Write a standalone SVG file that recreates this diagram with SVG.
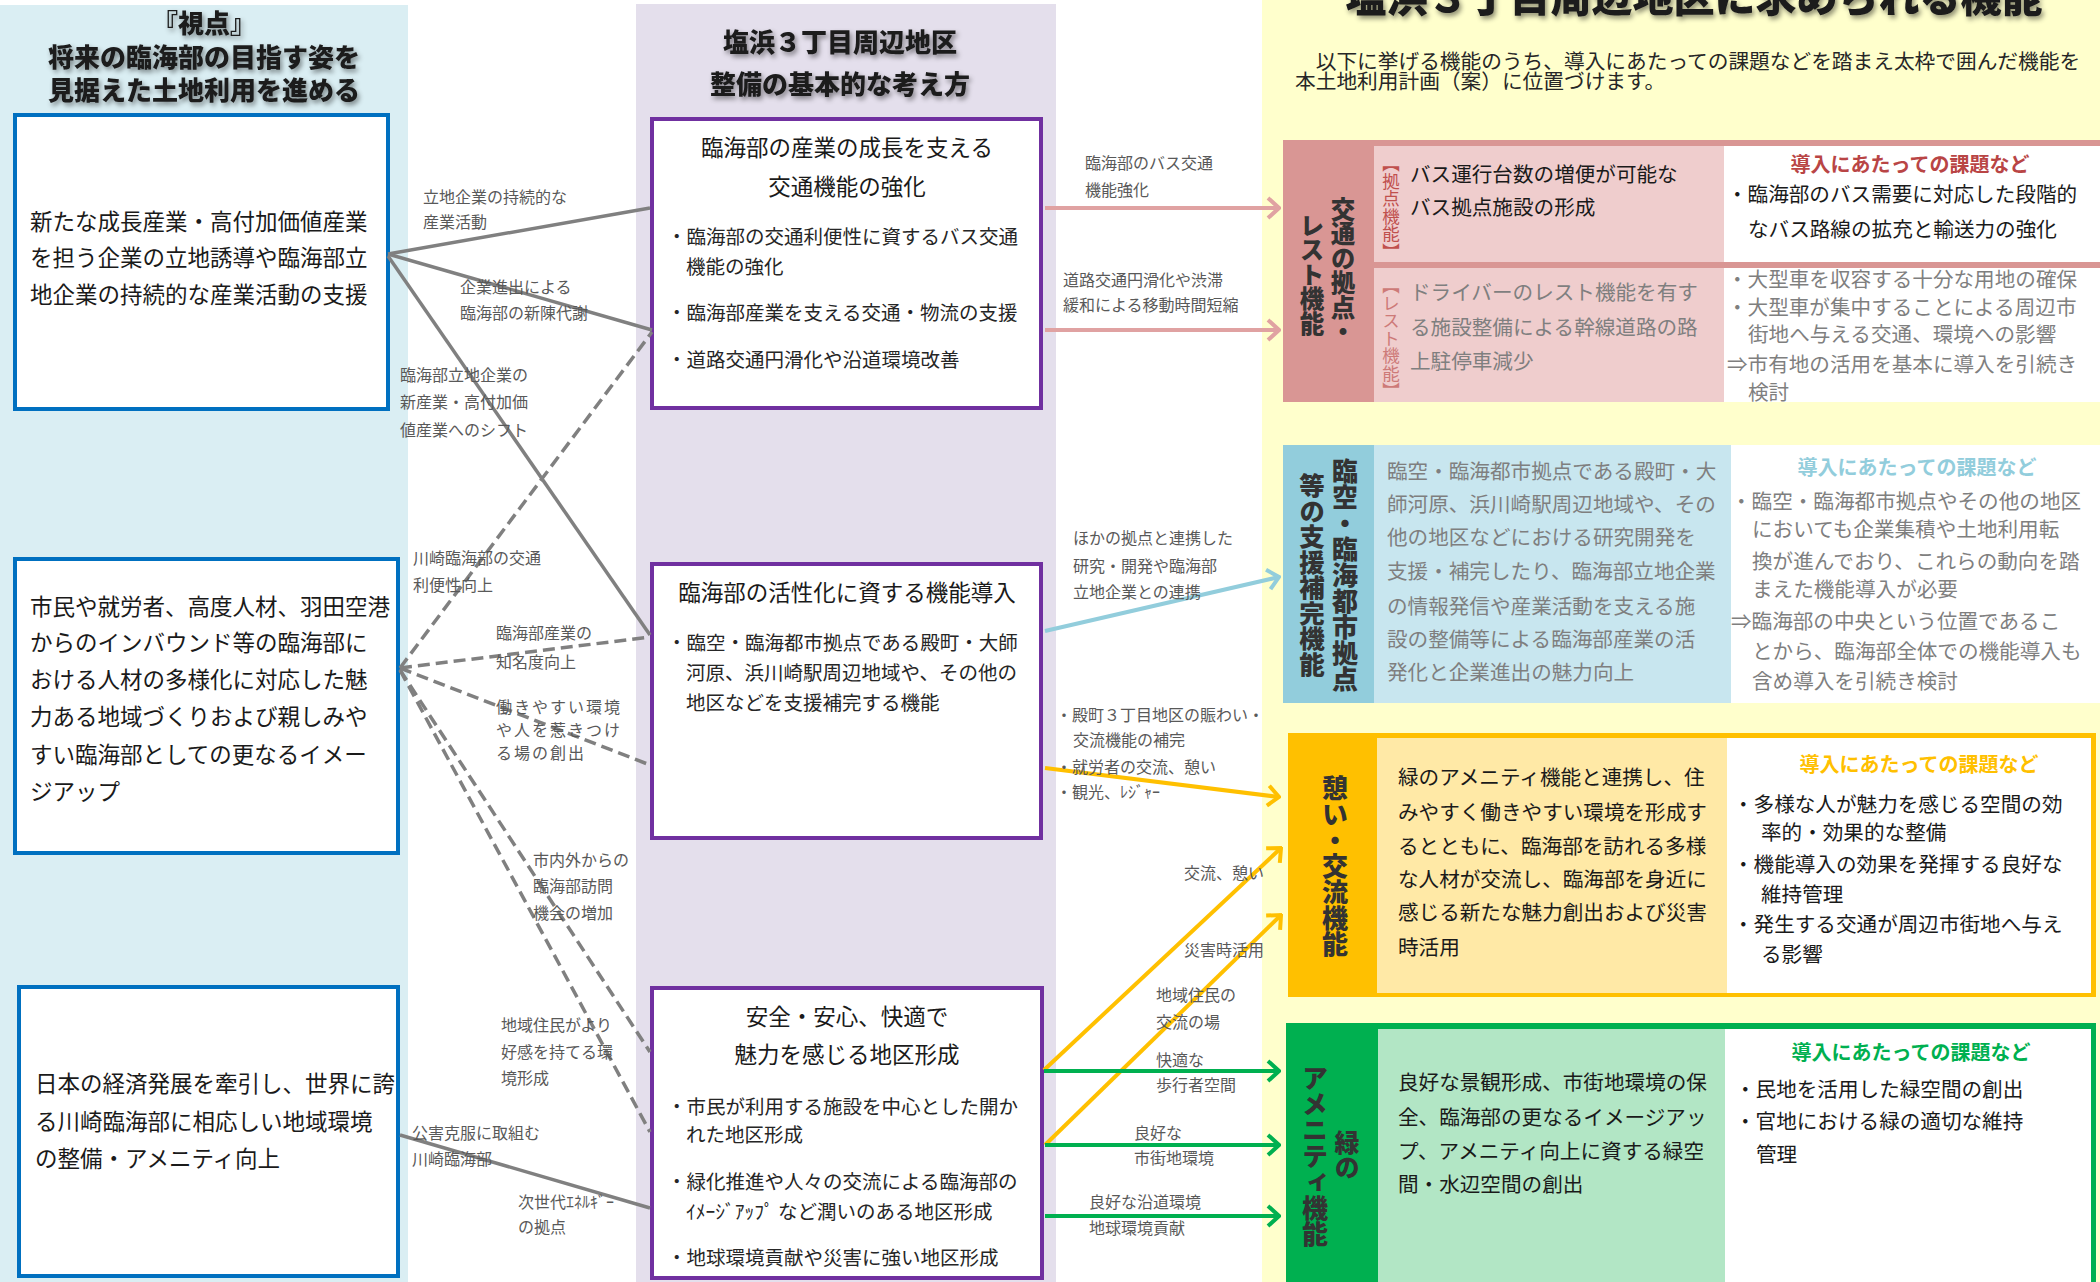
<svg xmlns="http://www.w3.org/2000/svg" width="2100" height="1282" viewBox="0 0 2100 1282">
<defs>
<style>
text{font-family:'Noto Sans CJK JP','Noto Sans',sans-serif;fill:#1a1a1a}
.hd{font-size:26px;font-weight:900;text-anchor:middle;filter:url(#sh)}
.t22{font-size:22.5px}
.bt{font-size:19.5px;fill:#262626}
.ctr{text-anchor:middle}
.lb{font-size:16px;fill:#595959}
.y{font-size:20.6px}
.g{fill:#7f7f7f}
.vt{writing-mode:vertical-rl;font-weight:900;font-size:25px;fill:#333}
.kd{font-size:20px;font-weight:bold;text-anchor:middle}
.sol{stroke:#808080;stroke-width:3.5;fill:none}
.dsh{stroke:#808080;stroke-width:3.5;fill:none;stroke-dasharray:12 6}
.blue{fill:#fff;stroke:#0070c0;stroke-width:4}
.purp{fill:#fff;stroke:#7030a0;stroke-width:4}
</style>
<filter id="sh" x="-10%" y="-40%" width="125%" height="180%"><feDropShadow dx="2" dy="3" stdDeviation="2.5" flood-color="#000" flood-opacity="0.45"/></filter>
<marker id="mp" viewBox="-14 -12 16 24" markerWidth="16" markerHeight="24" refX="0" refY="0" orient="auto" markerUnits="userSpaceOnUse"><path d="M-11,-10 L0,0 L-11,10" fill="none" stroke="#e0a2a2" stroke-width="4"/></marker>
<marker id="mb" viewBox="-14 -12 16 24" markerWidth="16" markerHeight="24" refX="0" refY="0" orient="auto" markerUnits="userSpaceOnUse"><path d="M-11,-10 L0,0 L-11,10" fill="none" stroke="#92cddc" stroke-width="4"/></marker>
<marker id="mo" viewBox="-14 -12 16 24" markerWidth="16" markerHeight="24" refX="0" refY="0" orient="auto" markerUnits="userSpaceOnUse"><path d="M-11,-10 L0,0 L-11,10" fill="none" stroke="#ffc000" stroke-width="4"/></marker>
<marker id="mg" viewBox="-14 -12 16 24" markerWidth="16" markerHeight="24" refX="0" refY="0" orient="auto" markerUnits="userSpaceOnUse"><path d="M-11,-10 L0,0 L-11,10" fill="none" stroke="#00b050" stroke-width="4"/></marker>
</defs>

<g id="backgrounds">
<rect x="0" y="5" width="408" height="1277" fill="#daeef3"/>
<rect x="636" y="4" width="420" height="1278" fill="#e4dfec"/>
<rect x="1262" y="0" width="838" height="1282" fill="#ffffcc"/>
</g>

<g id="headings">
<text class="hd" x="204" y="33">『視点』</text>
<text class="hd" x="204" y="67">将来の臨海部の目指す姿を</text>
<text class="hd" x="204" y="100">見据えた土地利用を進める</text>
<text class="hd" x="840" y="52">塩浜３丁目周辺地区</text>
<text class="hd" x="840" y="94">整備の基本的な考え方</text>
<text class="hd" x="1694" y="12" style="font-size:41px">塩浜３丁目周辺地区に求められる機能</text>
<text x="1295" y="69" style="font-size:20.7px;fill:#262626">　以下に挙げる機能のうち、導入にあたっての課題などを踏まえ太枠で囲んだ機能を</text>
<text x="1295" y="89" style="font-size:20.7px;fill:#262626">本土地利用計画（案）に位置づけます。</text>
</g>

<g id="view1">
<rect class="blue" x="15" y="115" width="373" height="294"/>
<text class="t22" x="30" y="230">新たな成長産業・高付加価値産業</text>
<text class="t22" x="30" y="266">を担う企業の立地誘導や臨海部立</text>
<text class="t22" x="30" y="303">地企業の持続的な産業活動の支援</text>
</g>
<g id="view2">
<rect class="blue" x="15" y="559" width="383" height="294"/>
<text class="t22" x="30" y="615">市民や就労者、高度人材、羽田空港</text>
<text class="t22" x="30" y="651">からのインバウンド等の臨海部に</text>
<text class="t22" x="30" y="688">おける人材の多様化に対応した魅</text>
<text class="t22" x="30" y="725">力ある地域づくりおよび親しみや</text>
<text class="t22" x="30" y="763">すい臨海部としての更なるイメー</text>
<text class="t22" x="30" y="800">ジアップ</text>
</g>
<g id="view3">
<rect class="blue" x="19" y="987" width="379" height="289"/>
<text class="t22" x="35" y="1092">日本の経済発展を牽引し、世界に誇</text>
<text class="t22" x="35" y="1130">る川崎臨海部に相応しい地域環境</text>
<text class="t22" x="35" y="1167">の整備・アメニティ向上</text>
</g>

<g id="policyA">
<rect class="purp" x="652" y="119" width="389" height="289"/>
<text class="t22 ctr" x="847" y="156">臨海部の産業の成長を支える</text>
<text class="t22 ctr" x="847" y="195">交通機能の強化</text>
<text class="bt" x="667" y="244">・臨海部の交通利便性に資するバス交通</text>
<text class="bt" x="686" y="274">機能の強化</text>
<text class="bt" x="667" y="320">・臨海部産業を支える交通・物流の支援</text>
<text class="bt" x="667" y="367">・道路交通円滑化や沿道環境改善</text>
</g>
<g id="policyB">
<rect class="purp" x="652" y="564" width="389" height="274"/>
<text class="t22 ctr" x="847" y="601">臨海部の活性化に資する機能導入</text>
<text class="bt" x="667" y="650">・臨空・臨海都市拠点である殿町・大師</text>
<text class="bt" x="686" y="680">河原、浜川崎駅周辺地域や、その他の</text>
<text class="bt" x="686" y="710">地区などを支援補完する機能</text>
</g>
<g id="policyC">
<rect class="purp" x="652" y="988" width="390" height="290"/>
<text class="t22 ctr" x="847" y="1025">安全・安心、快適で</text>
<text class="t22 ctr" x="847" y="1063">魅力を感じる地区形成</text>
<text class="bt" x="667" y="1114">・市民が利用する施設を中心とした開か</text>
<text class="bt" x="686" y="1142">れた地区形成</text>
<text class="bt" x="667" y="1189">・緑化推進や人々の交流による臨海部の</text>
<text class="bt" x="686" y="1219">ｲﾒｰｼﾞｱｯﾌﾟ など潤いのある地区形成</text>
<text class="bt" x="667" y="1265">・地球環境貢献や災害に強い地区形成</text>
</g>

<g id="funcTransport">
<rect x="1283" y="140" width="817" height="6" fill="#d99694"/>
<rect x="1283" y="140" width="91" height="262" fill="#d99694"/>
<rect x="1374" y="146" width="350" height="256" fill="#efcdcd"/>
<rect x="1724" y="146" width="376" height="116" fill="#fff"/>
<rect x="1374" y="262" width="726" height="6" fill="#d99694"/>
<rect x="1724" y="268" width="376" height="134" fill="#fff"/>
<text class="vt" x="1343" y="197" style="font-size:24.5px">交通の拠点・</text>
<text class="vt" x="1312" y="213" style="font-size:24.5px">レスト機能</text>
<text x="1391" y="155" style="writing-mode:vertical-rl;font-size:17.5px;fill:#c0504d">【拠点機能】</text>
<text x="1391" y="277" style="writing-mode:vertical-rl;font-size:17.5px;fill:#cd7a78">【レスト機能】</text>
<text class="y" x="1410" y="182">バス運行台数の増便が可能な</text>
<text class="y" x="1410" y="215">バス拠点施設の形成</text>
<text class="y g" x="1410" y="300">ドライバーのレスト機能を有す</text>
<text class="y g" x="1410" y="335">る施設整備による幹線道路の路</text>
<text class="y g" x="1410" y="369">上駐停車減少</text>
<text class="kd" x="1910" y="172" style="fill:#b94545">導入にあたっての課題など</text>
<text class="y" x="1727" y="202">・臨海部のバス需要に対応した段階的</text>
<text class="y" x="1748" y="237">なバス路線の拡充と輸送力の強化</text>
<text class="y g" x="1727" y="287">・大型車を収容する十分な用地の確保</text>
<text class="y g" x="1727" y="315">・大型車が集中することによる周辺市</text>
<text class="y g" x="1748" y="342">街地へ与える交通、環境への影響</text>
<text class="y g" x="1727" y="372">⇒市有地の活用を基本に導入を引続き</text>
<text class="y g" x="1748" y="400">検討</text>
</g>

<g id="funcSupport">
<rect x="1283" y="445" width="91" height="258" fill="#92cddc"/>
<rect x="1374" y="445" width="357" height="258" fill="#c8e6ef"/>
<rect x="1731" y="445" width="369" height="258" fill="#fff"/>
<text class="vt" x="1345" y="458" style="font-size:26px">臨空・臨海都市拠点</text>
<text class="vt" x="1312" y="473" style="font-size:25.5px">等の支援補完機能</text>
<text class="y g" x="1387" y="479">臨空・臨海都市拠点である殿町・大</text>
<text class="y g" x="1387" y="512">師河原、浜川崎駅周辺地域や、その</text>
<text class="y g" x="1387" y="545">他の地区などにおける研究開発を</text>
<text class="y g" x="1387" y="579">支援・補完したり、臨海部立地企業</text>
<text class="y g" x="1387" y="614">の情報発信や産業活動を支える施</text>
<text class="y g" x="1387" y="647">設の整備等による臨海部産業の活</text>
<text class="y g" x="1387" y="680">発化と企業進出の魅力向上</text>
<text class="kd" x="1917" y="475" style="fill:#92cddc">導入にあたっての課題など</text>
<text class="y g" x="1731" y="509">・臨空・臨海都市拠点やその他の地区</text>
<text class="y g" x="1752" y="537">においても企業集積や土地利用転</text>
<text class="y g" x="1752" y="569">換が進んでおり、これらの動向を踏</text>
<text class="y g" x="1752" y="597">まえた機能導入が必要</text>
<text class="y g" x="1731" y="629">⇒臨海部の中央という位置であるこ</text>
<text class="y g" x="1752" y="659">とから、臨海部全体での機能導入も</text>
<text class="y g" x="1752" y="689">含め導入を引続き検討</text>
</g>

<g id="funcRest">
<rect x="1288" y="733" width="808" height="264" fill="#ffc000"/>
<rect x="1377" y="738" width="350" height="255" fill="#ffe9a6"/>
<rect x="1727" y="738" width="364" height="255" fill="#fff"/>
<text class="vt" x="1335" y="775" style="font-size:26px">憩い・交流機能</text>
<text class="y" x="1398" y="785">緑のアメニティ機能と連携し、住</text>
<text class="y" x="1398" y="820">みやすく働きやすい環境を形成す</text>
<text class="y" x="1398" y="854">るとともに、臨海部を訪れる多様</text>
<text class="y" x="1398" y="887">な人材が交流し、臨海部を身近に</text>
<text class="y" x="1398" y="920">感じる新たな魅力創出および災害</text>
<text class="y" x="1398" y="955">時活用</text>
<text class="kd" x="1919" y="772" style="fill:#ffc000">導入にあたっての課題など</text>
<text class="y" x="1733" y="812">・多様な人が魅力を感じる空間の効</text>
<text class="y" x="1761" y="840">率的・効果的な整備</text>
<text class="y" x="1733" y="872">・機能導入の効果を発揮する良好な</text>
<text class="y" x="1761" y="902">維持管理</text>
<text class="y" x="1733" y="932">・発生する交通が周辺市街地へ与え</text>
<text class="y" x="1761" y="962">る影響</text>
</g>

<g id="funcGreen">
<rect x="1286" y="1023" width="810" height="259" fill="#00b050"/>
<rect x="1378" y="1029" width="347" height="253" fill="#b2e6c5"/>
<rect x="1725" y="1029" width="366" height="253" fill="#fff"/>
<text class="vt" x="1347" y="1130">緑の</text>
<text class="vt" x="1315" y="1065" style="font-size:26px">アメニティ機能</text>
<text class="y" x="1398" y="1090">良好な景観形成、市街地環境の保</text>
<text class="y" x="1398" y="1125">全、臨海部の更なるイメージアッ</text>
<text class="y" x="1398" y="1159">プ、アメニティ向上に資する緑空</text>
<text class="y" x="1398" y="1192">間・水辺空間の創出</text>
<text class="kd" x="1911" y="1060" style="fill:#00b050">導入にあたっての課題など</text>
<text class="y" x="1735" y="1097">・民地を活用した緑空間の創出</text>
<text class="y" x="1735" y="1129">・官地における緑の適切な維持</text>
<text class="y" x="1756" y="1162">管理</text>
</g>

<g id="connectors">
<line class="sol" x1="388" y1="254" x2="650" y2="208"/>
<line class="sol" x1="388" y1="254" x2="652" y2="330"/>
<line class="sol" x1="388" y1="256" x2="650" y2="635"/>
<line class="dsh" x1="400" y1="668" x2="652" y2="332"/>
<line class="dsh" x1="400" y1="668" x2="650" y2="637"/>
<line class="dsh" x1="400" y1="668" x2="650" y2="765"/>
<line class="dsh" x1="400" y1="670" x2="650" y2="1052"/>
<line class="dsh" x1="400" y1="670" x2="650" y2="1132"/>
<line class="sol" x1="400" y1="1135" x2="650" y2="1208"/>

<line x1="1045" y1="208" x2="1279" y2="208" stroke="#e0a2a2" stroke-width="4" marker-end="url(#mp)"/>
<line x1="1045" y1="330" x2="1279" y2="330" stroke="#e0a2a2" stroke-width="4" marker-end="url(#mp)"/>
<line x1="1045" y1="631" x2="1279" y2="577" stroke="#92cddc" stroke-width="4" marker-end="url(#mb)"/>
<line x1="1045" y1="768" x2="1279" y2="797" stroke="#ffc000" stroke-width="4" marker-end="url(#mo)"/>
<line x1="1044" y1="1070" x2="1281" y2="848" stroke="#ffc000" stroke-width="4" marker-end="url(#mo)"/>
<line x1="1045" y1="1145" x2="1281" y2="915" stroke="#ffc000" stroke-width="4" marker-end="url(#mo)"/>
<line x1="1044" y1="1071" x2="1279" y2="1071" stroke="#00b050" stroke-width="4" marker-end="url(#mg)"/>
<line x1="1045" y1="1145" x2="1279" y2="1145" stroke="#00b050" stroke-width="4" marker-end="url(#mg)"/>
<line x1="1045" y1="1216" x2="1279" y2="1216" stroke="#00b050" stroke-width="4" marker-end="url(#mg)"/>

<text class="lb" x="423" y="203">立地企業の持続的な</text>
<text class="lb" x="423" y="228">産業活動</text>
<text class="lb" x="460" y="293">企業進出による</text>
<text class="lb" x="460" y="319">臨海部の新陳代謝</text>
<text class="lb" x="400" y="381">臨海部立地企業の</text>
<text class="lb" x="400" y="408">新産業・高付加価</text>
<text class="lb" x="400" y="436">値産業へのシフト</text>
<text class="lb" x="413" y="564">川崎臨海部の交通</text>
<text class="lb" x="413" y="591">利便性向上</text>
<text class="lb" x="496" y="639">臨海部産業の</text>
<text class="lb" x="496" y="668">知名度向上</text>
<text class="lb" x="496" y="713" style="letter-spacing:2px">働きやすい環境</text>
<text class="lb" x="496" y="736" style="letter-spacing:2px">や人を惹きつけ</text>
<text class="lb" x="496" y="759" style="letter-spacing:2px">る場の創出</text>
<text class="lb" x="533" y="866">市内外からの</text>
<text class="lb" x="533" y="892">臨海部訪問</text>
<text class="lb" x="533" y="919">機会の増加</text>
<text class="lb" x="501" y="1031">地域住民がより</text>
<text class="lb" x="501" y="1058">好感を持てる環</text>
<text class="lb" x="501" y="1084">境形成</text>
<text class="lb" x="412" y="1139">公害克服に取組む</text>
<text class="lb" x="412" y="1165">川崎臨海部</text>
<text class="lb" x="518" y="1208">次世代ｴﾈﾙｷﾞｰ</text>
<text class="lb" x="518" y="1233">の拠点</text>

<text class="lb" x="1085" y="169">臨海部のバス交通</text>
<text class="lb" x="1085" y="196">機能強化</text>
<text class="lb" x="1063" y="286">道路交通円滑化や渋滞</text>
<text class="lb" x="1063" y="311">緩和による移動時間短縮</text>
<text class="lb" x="1073" y="544">ほかの拠点と連携した</text>
<text class="lb" x="1073" y="572">研究・開発や臨海部</text>
<text class="lb" x="1073" y="598">立地企業との連携</text>
<text class="lb" x="1056" y="721">・殿町３丁目地区の賑わい・</text>
<text class="lb" x="1073" y="746">交流機能の補完</text>
<text class="lb" x="1056" y="773">・就労者の交流、憩い</text>
<text class="lb" x="1056" y="798">・観光、ﾚｼﾞｬｰ</text>
<text class="lb" x="1184" y="879">交流、憩い</text>
<text class="lb" x="1184" y="956">災害時活用</text>
<text class="lb" x="1156" y="1001">地域住民の</text>
<text class="lb" x="1156" y="1028">交流の場</text>
<text class="lb" x="1156" y="1066">快適な</text>
<text class="lb" x="1156" y="1091">歩行者空間</text>
<text class="lb" x="1134" y="1139">良好な</text>
<text class="lb" x="1134" y="1164">市街地環境</text>
<text class="lb" x="1089" y="1208">良好な沿道環境</text>
<text class="lb" x="1089" y="1234">地球環境貢献</text>
</g>
</svg>
